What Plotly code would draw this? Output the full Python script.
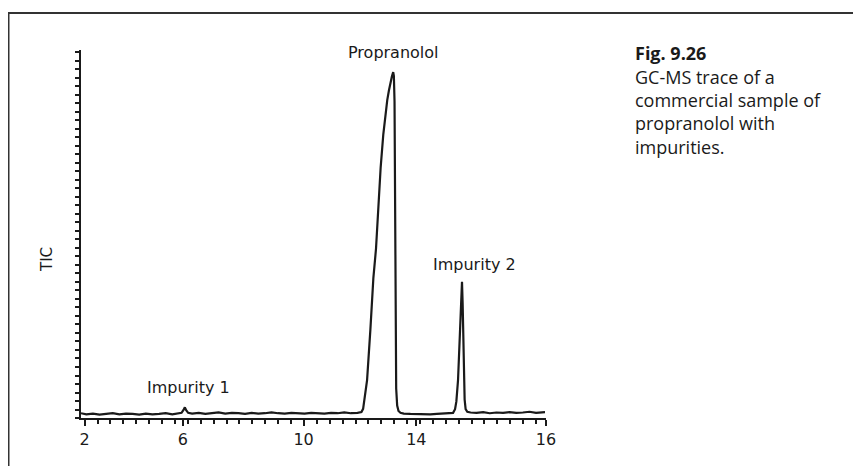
import plotly.graph_objects as go

# Retention time (linear axis units) and total ion current (relative %)
rt = [1.94, 2.1, 2.3, 2.5, 2.7, 2.9, 3.1, 3.3, 3.5, 3.7, 3.9, 4.1, 4.3, 4.5, 4.7, 4.9,
      4.98, 5.04, 5.08, 5.12, 5.18, 5.3, 5.5, 5.7, 5.9, 6.1, 6.3, 6.5, 6.7, 6.9, 7.1,
      7.3, 7.5, 7.7, 7.9, 8.1, 8.3, 8.5, 8.7, 8.9, 9.1, 9.3, 9.5, 9.7, 9.9, 10.1,
      10.3, 10.42, 10.47, 10.53, 10.59, 10.69, 10.78, 10.86, 10.93, 11.0, 11.08,
      11.14, 11.2, 11.25, 11.29, 11.34, 11.38, 11.40, 11.42, 11.43, 11.44, 11.45,
      11.47, 11.50, 11.54, 11.6, 11.7, 11.9, 12.1, 12.3, 12.5, 12.7, 12.9, 13.1,
      13.19, 13.25, 13.29, 13.34, 13.38, 13.41, 13.44, 13.46, 13.48, 13.50, 13.52,
      13.54, 13.57, 13.62, 13.72, 13.9, 14.1, 14.3, 14.5, 14.7, 14.9, 15.1, 15.3,
      15.5, 15.7, 15.97]
tic = [1.3, 1.0, 1.2, 0.9, 1.1, 1.3, 1.0, 1.2, 1.1, 0.9, 1.2, 1.0, 1.1, 1.3, 1.0, 1.2,
       1.4, 2.2, 2.9, 2.1, 1.4, 1.2, 1.4, 1.1, 1.3, 1.5, 1.2, 1.4, 1.3, 1.1, 1.4,
       1.2, 1.3, 1.5, 1.3, 1.2, 1.4, 1.3, 1.2, 1.4, 1.3, 1.2, 1.4, 1.3, 1.5, 1.3,
       1.4, 1.6, 2.5, 6.0, 10.3, 24.0, 38.0, 46.0, 57.0, 68.0, 77.0,
       82.0, 86.4, 89.0, 91.2, 92.8, 94.0, 93.0, 86.0, 70.0, 45.0, 22.0,
       8.0, 3.4, 1.9, 1.4, 1.2, 1.1, 1.0, 1.1, 1.0, 1.1, 1.2, 1.3,
       1.4, 2.4, 4.5, 10.3, 18.0, 25.0, 33.0, 37.0, 31.0, 21.0, 10.0,
       5.0, 2.4, 1.7, 1.5, 1.4, 1.6, 1.3, 1.5, 1.4, 1.6, 1.4, 1.5,
       1.7, 1.4, 1.6]

# Printed tick labels sit at uneven positions along the time axis
tick_pos = [2.05, 5.02, 8.67, 12.08, 16.0]
tick_text = ["2", "6", "10", "14", "16"]

peak_labels = ["Propranolol", "Impurity 2", "Impurity 1"]
peak_label_x = [11.38, 13.83, 5.2]
peak_label_y = [99.2, 41.6, 8.2]

caption_lines = ["<b>Fig. 9.26</b>", "GC-MS trace of a", "commercial sample of",
                 "propranolol with", "impurities."]

OFF = 8  # page body margin
W, H = 861 - OFF, 466 - OFF
L, R, T, B = 81, 546, 50, 418          # plot area in page pixels
pw, ph = R - L, B - T


def px(xp):
    return (xp - L) / pw


def py(yp):
    return (B - yp) / ph


fig = go.Figure()
fig.add_trace(go.Scatter(x=rt, y=tic, mode="lines",
                         line=dict(color="#1a1a1a", width=2.2), hoverinfo="skip"))

font_main = "DejaVu Sans, Arial, sans-serif"

for txt, x, y in zip(peak_labels, peak_label_x, peak_label_y):
    fig.add_annotation(x=x, y=y, xref="x", yref="y", text=txt, showarrow=False,
                       font=dict(family=font_main, size=16, color="#1a1a1a"),
                       xanchor="center", yanchor="middle")

cap_y_px = [53, 77, 100, 123, 147]
for txt, yp in zip(caption_lines, cap_y_px):
    fig.add_annotation(x=px(633), y=py(yp), xref="paper", yref="paper",
                       text=txt, showarrow=False, xanchor="left", yanchor="middle",
                       font=dict(family="Open Sans, sans-serif", size=18, color="#1a1a1a"))

fig.add_annotation(x=px(47), y=py(260), xref="paper", yref="paper",
                   text="TIC", showarrow=False, textangle=-90,
                   font=dict(family=font_main, size=15, color="#1a1a1a"),
                   xanchor="center", yanchor="middle")

# Page frame (top and left rules of the printed figure box)
fig.add_shape(type="line", xref="paper", yref="paper",
              x0=px(8), x1=px(870), y0=py(13), y1=py(13),
              line=dict(color="#333", width=2))
fig.add_shape(type="line", xref="paper", yref="paper",
              x0=px(8.5), x1=px(8.5), y0=py(13), y1=py(470),
              line=dict(color="#333", width=2))

fig.update_xaxes(range=[1.94, 16.0], tickvals=tick_pos, ticktext=tick_text,
                 showline=True, linecolor="#1a1a1a", linewidth=2,
                 ticks="outside", ticklen=6, tickwidth=2, tickcolor="#1a1a1a",
                 minor=dict(dtick=0.39, tick0=2.05, ticks="outside", ticklen=4,
                            tickwidth=1.5, tickcolor="#1a1a1a"),
                 showgrid=False, zeroline=False,
                 tickfont=dict(family=font_main, size=16, color="#1a1a1a"))
fig.update_yaxes(range=[0, 100], showline=True, linecolor="#1a1a1a", linewidth=2,
                 ticks="outside", ticklen=4, tickwidth=2, tickcolor="#1a1a1a",
                 dtick=2.31, tick0=0, showticklabels=False,
                 showgrid=False, zeroline=False)

fig.update_layout(width=W, height=H,
                  margin=dict(l=L - OFF, r=W - (R - OFF), t=T - OFF, b=H - (B - OFF)),
                  plot_bgcolor="white", paper_bgcolor="white", showlegend=False)

fig.write_html("out.html")
